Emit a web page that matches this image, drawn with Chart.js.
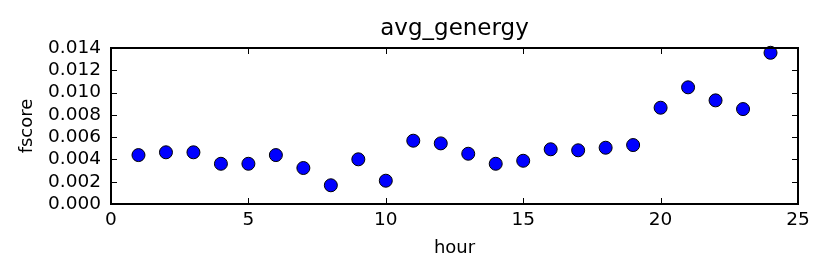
<!DOCTYPE html>
<html>
<head>
<meta charset="utf-8">
<script src="https://cdn.jsdelivr.net/npm/chart.js@4/dist/chart.umd.min.js"></script>
<style>
    body { margin: 0; background: #fff; }
</style>
</head>
<body>
<canvas id="chartGenergy" width="830" height="277"></canvas>
<script>
const hours = [1, 2, 3, 4, 5, 6, 7, 8, 9, 10, 11, 12, 13, 14, 15, 16, 17, 18, 19, 20, 21, 22, 23, 24];
const fscores = [0.00439, 0.00464, 0.00464, 0.00361, 0.00361, 0.00439, 0.00323, 0.00168, 0.00401, 0.00209, 0.00568, 0.00544,
                 0.00451, 0.00361, 0.00388, 0.00491, 0.00482, 0.00505, 0.00529, 0.00864, 0.01047, 0.00930, 0.00852, 0.01357];
const xTicks = [0, 5, 10, 15, 20, 25];
const yTicks = [0, 0.002, 0.004, 0.006, 0.008, 0.010, 0.012, 0.014];

const FONT = "'DejaVu Sans', sans-serif";

// matplotlib style frame with inward ticks on all four sides
const framePlugin = {
    id: 'frame',
    afterDatasetsDraw(chart) {
        const { ctx, chartArea: a, scales } = chart;
        const len = 6;
        ctx.save();
        ctx.strokeStyle = '#000';
        ctx.lineWidth = 1;
        ctx.beginPath();
        xTicks.forEach(v => {
            const x = Math.round(scales.x.getPixelForValue(v)) + 0.5;
            ctx.moveTo(x, a.bottom); ctx.lineTo(x, a.bottom - len);
            ctx.moveTo(x, a.top); ctx.lineTo(x, a.top + len);
        });
        yTicks.forEach(v => {
            const y = Math.round(scales.y.getPixelForValue(v)) + 0.5;
            ctx.moveTo(a.left, y); ctx.lineTo(a.left + len, y);
            ctx.moveTo(a.right, y); ctx.lineTo(a.right - len, y);
        });
        ctx.stroke();
        ctx.lineWidth = 2;
        ctx.strokeRect(a.left, a.top, a.right - a.left, a.bottom - a.top);
        ctx.restore();
    }
};

new Chart(document.getElementById('chartGenergy'), {
    type: 'scatter',
    data: {
        datasets: [{
            label: 'fscore',
            data: hours.map((h, i) => ({ x: h, y: fscores[i] })),
            backgroundColor: '#0000ff',
            borderColor: '#000',
            borderWidth: 1,
            pointRadius: 6.5,
            pointHoverRadius: 6.5,
            clip: false
        }]
    },
    options: {
        responsive: false,
        animation: false,
        events: [],
        layout: { padding: { left: 0, right: 32, top: 0, bottom: 0 } },
        scales: {
            x: {
                type: 'linear', min: 0, max: 25,
                afterBuildTicks: s => { s.ticks = xTicks.map(v => ({ value: v })); },
                afterFit: s => { s.height = 73; },
                grid: { display: false, drawTicks: false },
                border: { display: false },
                ticks: { autoSkip: false, maxRotation: 0, padding: 5.4, color: '#000', font: { family: FONT, size: 18.5 } },
                title: { display: true, text: 'hour', color: '#000', padding: { top: 0, bottom: 18 },
                         font: { family: FONT, size: 18 } }
            },
            y: {
                type: 'linear', min: 0, max: 0.014,
                afterBuildTicks: s => { s.ticks = yTicks.map(v => ({ value: v })); },
                afterFit: s => { s.width = 111; },
                grid: { display: false, drawTicks: false },
                border: { display: false },
                ticks: { autoSkip: false, padding: 10, color: '#000', font: { family: FONT, size: 18.5 },
                         callback: v => v.toFixed(3) },
                title: { display: true, text: 'fscore', color: '#000', padding: { top: 17, bottom: 0 },
                         font: { family: FONT, size: 18 } }
            }
        },
        plugins: {
            legend: { display: false },
            tooltip: { enabled: false },
            title: {
                display: true, text: 'avg_genergy', color: '#000', fullSize: false,
                font: { family: FONT, size: 23, weight: 'normal' },
                padding: { top: 15.2, bottom: 5.2 }
            }
        }
    },
    plugins: [framePlugin]
});
</script>
</body>
</html>
